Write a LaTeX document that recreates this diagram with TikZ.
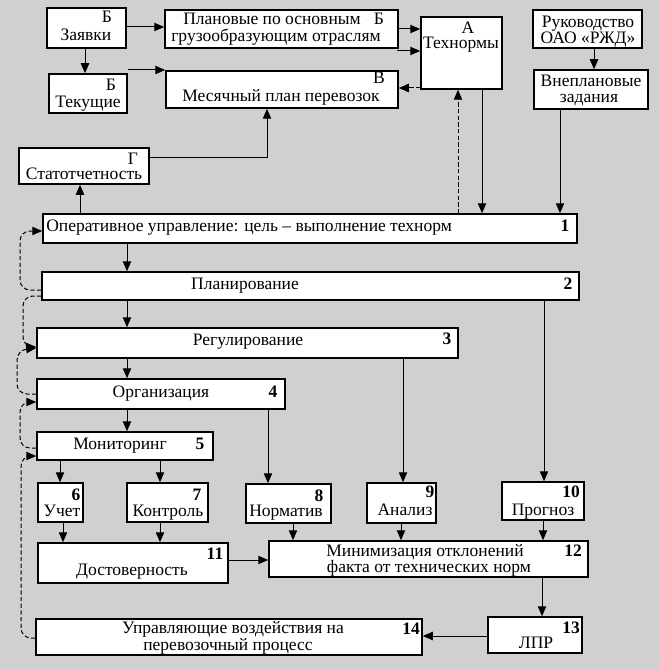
\documentclass[tikz,border=0pt]{standalone}
\usepackage{fontspec}
\setmainfont{Liberation Serif}
\usepackage{xcolor}
\usepackage{tikz}
\usetikzlibrary{arrows.meta, positioning, fit, calc}
\definecolor{fon}{HTML}{D0D0D0}
\tikzset{
  blok/.style={rectangle, draw=black, line width=0.9pt, fill=white, inner sep=0pt},
  tekst/.style={font=\fontsize{10.5}{12}\selectfont, inner sep=0pt, anchor=base},
  nomer/.style={tekst, font=\fontsize{10.5}{12}\selectfont\bfseries},
  strelka/.style={-{Triangle[length=6pt, width=5pt]}, line width=0.6pt},
  punktir/.style={-{Triangle[length=6pt, width=5pt]}, line width=0.6pt,
    dash pattern=on 2.5pt off 1.5pt, rounded corners=6pt}
}
\begin{document}
\begin{tikzpicture}[x=0.6pt, y=-0.6pt]

  % --- Фон ---
  \fill[fon] (0,0) rectangle (660,670);
  \useasboundingbox (0,0) rectangle (660,670);

  % --- Верхний уровень: заявки и планы ---
  \node[blok, fit={(47,8) (126,48)}] (zayavki) {};
  \node[tekst] (zayavki-b) at (107,23) {Б};
  \node[tekst] (zayavki-t) at (86,41) {Заявки};

  \node[blok, fit={(49,74) (127,113)}] (tekushchie) {};
  \node[tekst] (tekushchie-b) at (111,91) {Б};
  \node[tekst] (tekushchie-t) at (88,108) {Текущие};

  \node[blok, fit={(165,10) (398,48)}] (planovye) {};
  \node[tekst] (planovye-t1) at (272,25) {Плановые по основным};
  \node[tekst] (planovye-b) at (379,25) {Б};
  \node[tekst] (planovye-t2) at (276,42) {грузообразующим отраслям};

  \node[blok, fit={(166,71) (398,108)}] (mesyachny) {};
  \node[tekst] (mesyachny-b) at (379,84) {В};
  \node[tekst] (mesyachny-t) at (281,102) {Месячный план перевозок};

  \node[blok, fit={(421,17) (502,89)}] (tekhnormy) {};
  \node[tekst] (tekhnormy-a) at (468,34) {А};
  \node[tekst] (tekhnormy-t) at (461,49) {Технормы};

  \node[blok, fit={(533,10) (642,48)}] (rukovodstvo) {};
  \node[tekst] (rukovodstvo-t1) at (588,28) {Руководство};
  \node[tekst] (rukovodstvo-t2) at (588,44) {ОАО «РЖД»};

  \node[blok, fit={(534,70) (648,109)}] (vneplan) {};
  \node[tekst] (vneplan-t1) at (591,87) {Внеплановые};
  \node[tekst] (vneplan-t2) at (589,103) {задания};

  \node[blok, fit={(19,148) (149,184)}] (statotch) {};
  \node[tekst] (statotch-g) at (133,164) {Г};
  \node[tekst] (statotch-t) at (84,180) {Статотчетность};

  % --- Уровни управления 1--5 ---
  \node[blok, fit={(43,214) (577,243)}] (operativ) {};
  \node[tekst, anchor=base west] (operativ-t) at (46,231)
    {Оперативное управление: цель -- выполнение технорм};
  \node[nomer] (n1) at (565,231) {1};

  \node[blok, fit={(42,272) (579,300)}] (planirov) {};
  \node[tekst] (planirov-t) at (245,289) {Планирование};
  \node[nomer] (n2) at (568,289) {2};

  \node[blok, fit={(37,328) (458,358)}] (regulir) {};
  \node[tekst] (regulir-t) at (248,345) {Регулирование};
  \node[nomer] (n3) at (447,344) {3};

  \node[blok, fit={(37,379) (285,409)}] (organiz) {};
  \node[tekst] (organiz-t) at (161,397) {Организация};
  \node[nomer] (n4) at (273,397) {4};

  \node[blok, fit={(37,432) (213,460)}] (monitor) {};
  \node[tekst] (monitor-t) at (120,449) {Мониторинг};
  \node[nomer] (n5) at (200,449) {5};

  % --- Функции 6--10 ---
  \node[blok, fit={(38,483) (83,522)}] (uchet) {};
  \node[nomer] (n6) at (76,500) {6};
  \node[tekst] (uchet-t) at (62,516) {Учет};

  \node[blok, fit={(127,483) (208,522)}] (kontrol) {};
  \node[nomer] (n7) at (197,500) {7};
  \node[tekst] (kontrol-t) at (168,516) {Контроль};

  \node[blok, fit={(246,484) (331,523)}] (normativ) {};
  \node[nomer] (n8) at (319,501) {8};
  \node[tekst] (normativ-t) at (286,516) {Норматив};

  \node[blok, fit={(367,483) (436,523)}] (analiz) {};
  \node[nomer] (n9) at (430,497) {9};
  \node[tekst] (analiz-t) at (405,515) {Анализ};

  \node[blok, fit={(502,482) (584,520)}] (prognoz) {};
  \node[nomer] (n10) at (571,497) {10};
  \node[tekst] (prognoz-t) at (543,515) {Прогноз};

  % --- Результаты 11--14 ---
  \node[blok, fit={(38,543) (228,583)}] (dostover) {};
  \node[nomer] (n11) at (215,559) {11};
  \node[tekst] (dostover-t) at (132,575) {Достоверность};

  \node[blok, fit={(269,541) (588,577)}] (minimiz) {};
  \node[tekst] (minimiz-t1) at (425,556) {Минимизация отклонений};
  \node[tekst] (minimiz-t2) at (429,572) {факта от технических норм};
  \node[nomer] (n12) at (573,556) {12};

  \node[blok, fit={(488,617) (582,653)}] (lpr) {};
  \node[nomer] (n13) at (571,633) {13};
  \node[tekst] (lpr-t) at (536,648) {ЛПР};

  \node[blok, fit={(36,619) (422,655)}] (upravl) {};
  \node[tekst] (upravl-t1) at (233,633) {Управляющие воздействия на};
  \node[tekst] (upravl-t2) at (228,650) {перевозочный процесс};
  \node[nomer] (n14) at (411,634) {14};

  % --- Свободные концы ---
  \coordinate (tekushchie-out) at (128,70);
  \coordinate (mesyachny-out) at (397,51);

  % --- Стрелки верхней части ---
  \draw[strelka] (85,0 |- zayavki.south) -- (85,0 |- tekushchie.north);
  \draw[strelka] (zayavki.east |- 0,27) -- (planovye.west |- 0,27);
  \draw[strelka] (tekushchie-out) -- (tekushchie-out -| mesyachny.west);
  \draw[strelka] (planovye.east |- 0,29) -- (tekhnormy.west |- 0,29);
  \draw[strelka] (mesyachny-out) -- (mesyachny-out -| tekhnormy.west);
  \draw[punktir] (tekhnormy.west |- 0,88) -- (mesyachny.east |- 0,88);
  \draw[strelka] (statotch.east |- 0,158) -| (267,0 |- mesyachny.south);
  \draw[strelka] (80,0 |- operativ.north) -- (80,0 |- statotch.south);
  \draw[punktir] (458,0 |- operativ.north) -- (458,0 |- tekhnormy.south);
  \draw[strelka] (482,0 |- tekhnormy.south) -- (482,0 |- operativ.north);
  \draw[strelka] (594,0 |- rukovodstvo.south) -- (594,0 |- vneplan.north);
  \draw[strelka] (560,0 |- vneplan.south) -- (560,0 |- operativ.north);

  % --- Стрелки по уровням ---
  \draw[strelka] (127,0 |- operativ.south) -- (127,0 |- planirov.north);
  \draw[strelka] (127,0 |- planirov.south) -- (127,0 |- regulir.north);
  \draw[strelka] (127,0 |- regulir.south) -- (127,0 |- organiz.north);
  \draw[strelka] (127,0 |- organiz.south) -- (127,0 |- monitor.north);
  \draw[strelka] (268,0 |- organiz.south) -- (268,0 |- normativ.north);
  \draw[strelka] (403,0 |- regulir.south) -- (403,0 |- analiz.north);
  \draw[strelka] (544,0 |- planirov.south) -- (544,0 |- prognoz.north);
  \draw[strelka] (60,0 |- monitor.south) -- (60,0 |- uchet.north);
  \draw[strelka] (160,0 |- monitor.south) -- (160,0 |- kontrol.north);
  \draw[strelka] (63,0 |- uchet.south) -- (63,0 |- dostover.north);
  \draw[strelka] (160,0 |- kontrol.south) -- (160,0 |- dostover.north);
  \draw[strelka] (dostover.east |- 0,560) -- (minimiz.west |- 0,560);
  \draw[strelka] (293,0 |- normativ.south) -- (293,0 |- minimiz.north);
  \draw[strelka] (401,0 |- analiz.south) -- (401,0 |- minimiz.north);
  \draw[strelka] (543,0 |- prognoz.south) -- (543,0 |- minimiz.north);
  \draw[strelka] (542,0 |- minimiz.south) -- (542,0 |- lpr.north);
  \draw[strelka] (lpr.west |- 0,636) -- (upravl.east |- 0,636);

  % --- Обратные связи (пунктир) ---
  \draw[punktir] (planirov.west |- 0,290) -- (20,290) -- (20,231) -- (operativ.west |- 0,231);
  \draw[punktir] (planirov.west |- 0,296) -- (23,296) -- (23,347) -- (regulir.west |- 0,347);
  \draw[punktir] (organiz.west |- 0,394) -- (17,394) -- (17,350) -- (regulir.west |- 0,348);
  \draw[punktir] (monitor.west |- 0,448) -- (20,448) -- (20,402) -- (organiz.west |- 0,402);
  \draw[punktir] (upravl.west |- 0,638) -- (21,638) -- (21,456) -- (monitor.west |- 0,456);

\end{tikzpicture}
\end{document}
